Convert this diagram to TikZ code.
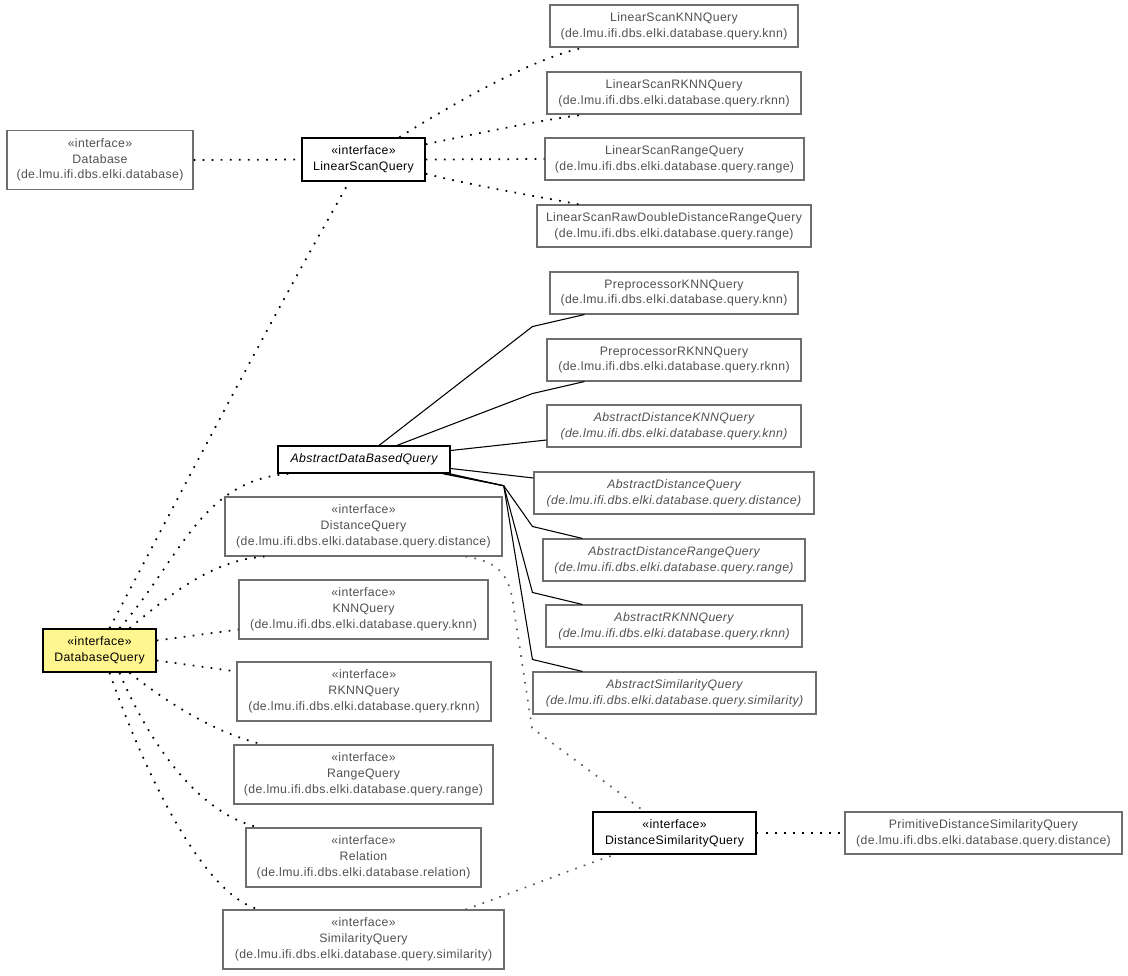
\documentclass[tikz,border=0pt]{standalone}
\usepackage{fontspec}
\setmainfont[LetterSpace=3]{Liberation Sans}
\usepackage{xcolor}
\usepackage{tikz}
\usetikzlibrary{shapes,arrows,positioning,fit,calc}
\definecolor{umltext}{HTML}{505050}
\definecolor{umlline}{HTML}{6E6E6E}
\definecolor{umldots}{HTML}{5A5A5A}
\definecolor{umlyellow}{HTML}{FFF68F}
\tikzstyle{block} = [draw=umlline, rectangle, text=umltext, align=center,
    inner sep=0pt, line width=0.8pt, minimum height=31.5pt,
    font=\fontsize{9.2}{11.8}\selectfont]
\tikzstyle{iface} = [block, minimum height=44.25pt]
\tikzstyle{abstract} = [block, font=\fontsize{9.2}{11.8}\selectfont\itshape]
\tikzstyle{focus} = [block, draw=black, text=black, line width=1.1pt, minimum height=32.25pt]
\tikzstyle{dep} = [black, line width=1.3pt, dash pattern=on 1.3pt off 5.5pt]
\tikzstyle{grey dep} = [umldots, line width=1.25pt, dash pattern=on 1.25pt off 5.5pt]
\tikzstyle{inherit} = [black, line width=0.8pt]

\begin{document}
\begin{tikzpicture}[x=0.75pt, y=-0.75pt, auto]
    \useasboundingbox (0,0) rectangle (1128,975);

    \node (db) [iface, minimum width=139.5pt] at (100,160) {«interface»\\Database\\(de.lmu.ifi.dbs.elki.database)};
    \node (lsq) [focus, minimum width=92.25pt] at (363.5,159.5) {«interface»\\LinearScanQuery};
    \node (lsknn) [block, minimum width=186pt] at (674,26) {LinearScanKNNQuery\\(de.lmu.ifi.dbs.elki.database.query.knn)};
    \node (lsrknn) [block, minimum width=190.5pt] at (674,93) {LinearScanRKNNQuery\\(de.lmu.ifi.dbs.elki.database.query.rknn)};
    \node (lsrange) [block, minimum width=194.25pt] at (674.5,159) {LinearScanRangeQuery\\(de.lmu.ifi.dbs.elki.database.query.range)};
    \node (lsraw) [block, minimum width=205.5pt] at (674,226) {LinearScanRawDoubleDistanceRangeQuery\\(de.lmu.ifi.dbs.elki.database.query.range)};
    \node (pknn) [block, minimum width=186pt] at (674,293) {PreprocessorKNNQuery\\(de.lmu.ifi.dbs.elki.database.query.knn)};
    \node (prknn) [block, minimum width=190.5pt] at (674,360) {PreprocessorRKNNQuery\\(de.lmu.ifi.dbs.elki.database.query.rknn)};
    \node (adknn) [abstract, minimum width=190.5pt] at (674,426) {AbstractDistanceKNNQuery\\(de.lmu.ifi.dbs.elki.database.query.knn)};
    \node (adq) [abstract, minimum width=210pt] at (674,493) {AbstractDistanceQuery\\(de.lmu.ifi.dbs.elki.database.query.distance)};
    \node (adrange) [abstract, minimum width=196.5pt] at (674,560) {AbstractDistanceRangeQuery\\(de.lmu.ifi.dbs.elki.database.query.range)};
    \node (arknn) [abstract, minimum width=192pt] at (674,626) {AbstractRKNNQuery\\(de.lmu.ifi.dbs.elki.database.query.rknn)};
    \node (asim) [abstract, minimum width=212.25pt] at (674.5,693) {AbstractSimilarityQuery\\(de.lmu.ifi.dbs.elki.database.query.similarity)};
    \node (adbq) [focus, minimum width=129pt, minimum height=20.25pt, font=\fontsize{9.2}{11.8}\selectfont\itshape] at (364,459.5) {AbstractDataBasedQuery};
    \node (dq) [iface, minimum width=207.75pt] at (363.5,526.5) {«interface»\\DistanceQuery\\(de.lmu.ifi.dbs.elki.database.query.distance)};
    \node (knn) [iface, minimum width=186.75pt] at (363.5,609.5) {«interface»\\KNNQuery\\(de.lmu.ifi.dbs.elki.database.query.knn)};
    \node (dbq) [focus, fill=umlyellow, minimum width=84.75pt] at (99.5,650.5) {«interface»\\DatabaseQuery};
    \node (rknn) [iface, minimum width=190.5pt] at (364,691.5) {«interface»\\RKNNQuery\\(de.lmu.ifi.dbs.elki.database.query.rknn)};
    \node (range) [iface, minimum width=194.25pt] at (363.5,774.5) {«interface»\\RangeQuery\\(de.lmu.ifi.dbs.elki.database.query.range)};
    \node (rel) [iface, minimum width=176.25pt] at (363.5,857.5) {«interface»\\Relation\\(de.lmu.ifi.dbs.elki.database.relation)};
    \node (sim) [iface, minimum width=210.75pt] at (363.5,939.5) {«interface»\\SimilarityQuery\\(de.lmu.ifi.dbs.elki.database.query.similarity)};
    \node (dsq) [focus, minimum width=122.25pt, minimum height=31.5pt] at (674.5,833) {«interface»\\DistanceSimilarityQuery};
    \node (pdsq) [block, minimum width=207.75pt] at (983.5,833) {PrimitiveDistanceSimilarityQuery\\(de.lmu.ifi.dbs.elki.database.query.distance)};
    \coordinate (fork) at ($(adbq.south east)+(53,12)$);

    % LinearScanQuery
    \draw [dep] (db.east) -- (lsq.west);
    \draw [dep] ($(lsq.north west)+(98,0)$) .. controls (440,112) and (530,58) .. ($(lsknn.south west)+(35,0)$);
    \draw [dep] ($(lsq.north east)+(0,7)$) .. controls (470,135) and (540,120) .. ($(lsrknn.south west)+(38,0)$);
    \draw [dep] (lsq.east) -- (lsrange.west);
    \draw [dep] ($(lsq.south east)+(0,-8)$) .. controls (470,185) and (540,197) .. ($(lsraw.north west)+(43,0)$);

    % DatabaseQuery
    \draw [dep] ($(dbq.north)+(10,0)$) .. controls (185,485) and (265,330) .. ($(lsq.south west)+(48,0)$);
    \draw [dep] ($(dbq.north)+(20,0)$) .. controls (180,560) and (200,480) .. ($(adbq.south west)+(12,0)$);
    \draw [dep] ($(dbq.north)+(30,0)$) .. controls (175,590) and (215,560) .. ($(dq.south west)+(40,0)$);
    \draw [dep] ($(dbq.east)+(0,-10)$) -- ($(knn.west)+(0,20)$);
    \draw [dep] ($(dbq.east)+(0,10)$) -- ($(rknn.west)+(0,-20)$);
    \draw [dep] ($(dbq.south)+(30,0)$) .. controls (170,705) and (220,735) .. ($(range.north west)+(30,0)$);
    \draw [dep] ($(dbq.south)+(20,0)$) .. controls (150,745) and (200,815) .. ($(rel.north west)+(14,0)$);
    \draw [dep] ($(dbq.south)+(10,0)$) .. controls (140,760) and (200,895) .. ($(sim.north west)+(37,0)$);

    % AbstractDataBasedQuery
    \draw [inherit] ($(adbq.north west)+(102,0)$) -- ($(pknn.south west)+(-17,12)$) -- ($(pknn.south west)+(35,0)$);
    \draw [inherit] ($(adbq.north west)+(120,0)$) -- ($(prknn.south west)+(-14,12)$) -- ($(prknn.south west)+(38,0)$);
    \draw [inherit] ($(adbq.east)+(0,-9)$) -- ($(adknn.west)+(0,14)$);
    \draw [inherit] ($(adbq.east)+(0,9)$) -- ($(adq.west)+(0,-15)$);
    \draw [inherit] ($(adbq.south east)+(-8,0)$) -- (fork) -- ($(adrange.north west)+(-10,-12)$) -- ($(adrange.north west)+(40,0)$);
    \draw [inherit] ($(adbq.south east)+(-4,0)$) -- (fork) -- ($(arknn.north west)+(-13,-12)$) -- ($(arknn.north west)+(37,0)$);
    \draw [inherit] ($(adbq.south east)+(-1,0)$) -- (fork) -- ($(asim.north west)+(0,-12)$) -- ($(asim.north west)+(50,0)$);

    % DistanceSimilarityQuery
    \draw [grey dep] ($(dq.south east)+(-37,0)$) .. controls (500,562) and (510,575) .. (514,610) -- (532,728) -- ($(dsq.north west)+(52,0)$);
    \draw [grey dep] ($(sim.north east)+(-39,0)$) .. controls (520,890) and (570,870) .. ($(dsq.south west)+(22,0)$);
    \draw [dep] (dsq.east) -- (pdsq.west);
\end{tikzpicture}
\end{document}
